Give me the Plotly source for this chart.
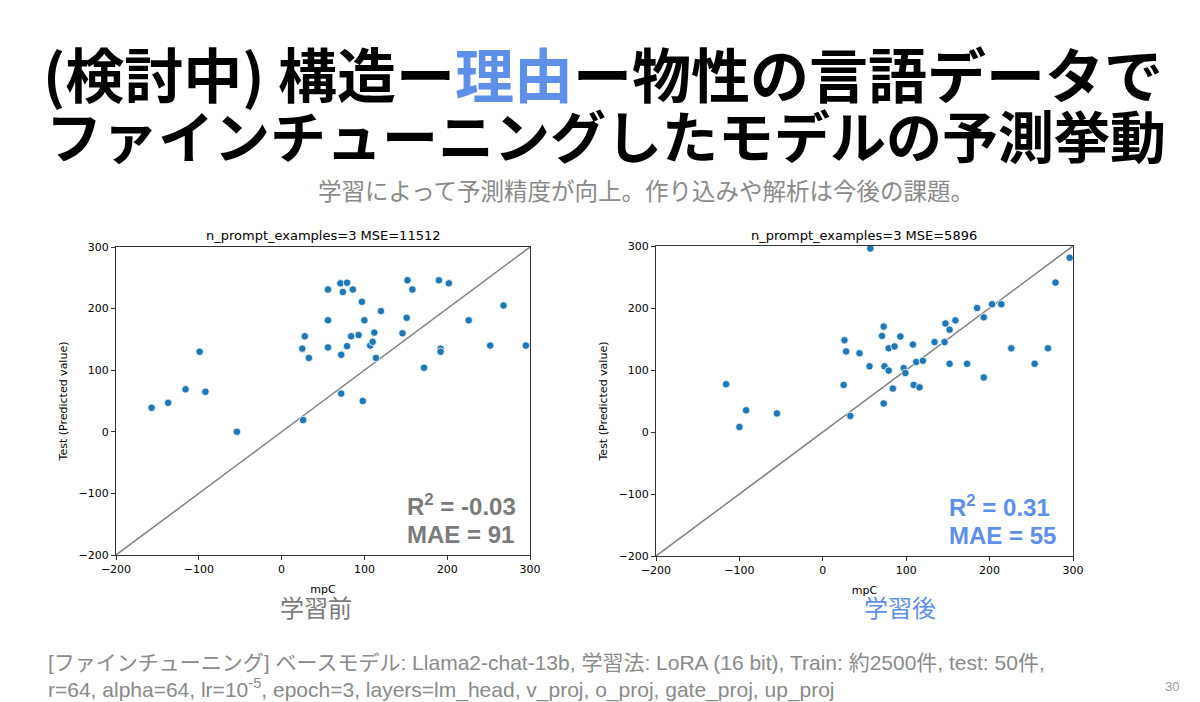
import plotly.graph_objects as go

# ---- data ----
before_x = [-157, -137, -116, -99, -92, -54, 26, 25, 28, 33, 56, 56, 56, 71, 79, 74, 86, 72, 72, 79,
            84, 93, 97, 100, 98, 107, 110, 112, 114, 120, 146, 151, 152, 158, 172, 190, 192, 192, 202,
            226, 252, 268, 295]
before_y = [39, 47, 69, 130, 65, 0, 19, 135, 155, 120, 231, 181, 137, 241, 242, 227, 231, 125, 62, 139,
            155, 157, 211, 181, 50, 140, 146, 161, 120, 196, 160, 185, 246, 231, 104, 246, 135, 130, 241,
            181, 140, 205, 140]

after_x = [57, 296, 279, 185, 203, 214, 193, 147, 159, 152, 73, 71, 93, 26, 28, 44, 79, 86, 108, 134,
           146, 226, 270, 56, 74, 79, 97, 99, 112, 120, 152, 173, 254, 193, 25, 84, 109, 116, 73, 33,
           -116, -92, -100, -55]
after_y = [296, 281, 241, 200, 206, 206, 185, 175, 180, 165, 170, 155, 154, 148, 130, 127, 135, 138, 141,
           145, 145, 135, 135, 106, 106, 99, 103, 95, 113, 115, 110, 110, 110, 88, 76, 70, 76, 72, 46,
           26, 77, 35, 8, 30]

diag = [-200, 300]
x_ticks = [-200, -100, 0, 100, 200, 300]
y_ticks = [-200, -100, 0, 100, 200, 300]

left_title = "n_prompt_examples=3 MSE=11512"
right_title = "n_prompt_examples=3 MSE=5896"
left_stats = ["R<sup>2</sup> = -0.03", "MAE = 91"]
right_stats = ["R<sup>2</sup> = 0.31", "MAE = 55"]

W, H = 1200, 702
OFF = 8  # page body margin
BLUE = "#5e8fe9"
GRAY = "#7b7b7b"
CJK = "Noto Sans CJK JP"
MPL = "DejaVu Sans"


def px(x):
    return (x - OFF) / W


def py(y):
    return 1 - (y - OFF) / H


fig = go.Figure()

# left panel
fig.add_trace(go.Scatter(x=diag, y=diag, mode="lines", line=dict(color="#808080", width=1.5),
                         xaxis="x", yaxis="y", hoverinfo="skip"))
fig.add_trace(go.Scatter(x=before_x, y=before_y, mode="markers",
                         marker=dict(color="#1f77b4", size=7.5, line=dict(color="white", width=0.8)),
                         xaxis="x", yaxis="y"))
# right panel
fig.add_trace(go.Scatter(x=diag, y=diag, mode="lines", line=dict(color="#808080", width=1.5),
                         xaxis="x2", yaxis="y2", hoverinfo="skip"))
fig.add_trace(go.Scatter(x=after_x, y=after_y, mode="markers",
                         marker=dict(color="#1f77b4", size=7.5, line=dict(color="white", width=0.8)),
                         xaxis="x2", yaxis="y2"))

axis_common = dict(range=[-200, 300], showline=True, mirror=True, linecolor="#333333", linewidth=1.2,
                   ticks="outside", ticklen=4, tickcolor="#333333", showgrid=False, zeroline=False,
                   automargin=False,
                   tickfont=dict(family=MPL, size=11, color="black"), tickvals=x_ticks,
                   ticktext=[str(v).replace("-", "\u2212") for v in x_ticks])

fig.update_layout(
    width=W, height=H, margin=dict(l=0, r=0, t=0, b=0),
    paper_bgcolor="white", plot_bgcolor="white", showlegend=False,
    xaxis=dict(axis_common, domain=[px(116), px(530)], anchor="y",
               title=dict(text="mpC", font=dict(family=MPL, size=11, color="black"), standoff=10)),
    yaxis=dict(axis_common, domain=[py(555), py(247)], anchor="x",
               title=dict(text="Test (Predicted value)", font=dict(family=MPL, size=11, color="black"),
                          standoff=8)),
    xaxis2=dict(axis_common, domain=[px(656), px(1073)], anchor="y2",
                title=dict(text="mpC", font=dict(family=MPL, size=11, color="black"), standoff=10)),
    yaxis2=dict(axis_common, domain=[py(556), py(246)], anchor="x2",
                title=dict(text="Test (Predicted value)", font=dict(family=MPL, size=11, color="black"),
                           standoff=8)),
)

ann = []


def add_text(text, x, y, size, color, family=CJK, xanchor="center", weight=None):
    f = dict(family=family, size=size, color=color)
    if weight:
        f["weight"] = weight
    ann.append(dict(text=text, x=px(x), y=py(y), xref="paper", yref="paper", showarrow=False,
                    xanchor=xanchor, yanchor="middle", font=f))


# header
add_text("(検討中) 構造ー<span style='color:%s'>理由</span>ー物性の言語データで" % BLUE, 603, 72, 59, "black",
         weight=700)
add_text("ファインチューニングしたモデルの予測挙動", 606, 133, 56, "black", weight=700)
add_text("学習によって予測精度が向上。作り込みや解析は今後の課題。", 646, 190, 23.5, "#8a8a8a")

# panel titles
add_text(left_title, 323, 236, 13, "black", family=MPL)
add_text(right_title, 864, 236, 13, "black", family=MPL)

# stats
add_text(left_stats[0], 405, 505, 24, GRAY, family="Liberation Sans", xanchor="left", weight=700)
add_text(left_stats[1], 405, 534, 24, GRAY, family="Liberation Sans", xanchor="left", weight=700)
add_text(right_stats[0], 947, 506, 24, BLUE, family="Liberation Sans", xanchor="left", weight=700)
add_text(right_stats[1], 947, 535, 24, BLUE, family="Liberation Sans", xanchor="left", weight=700)

# panel labels
add_text("学習前", 316, 606, 24, GRAY)
add_text("学習後", 900, 606, 24, BLUE)

# footer
FOOT = "Liberation Sans, " + CJK
add_text("[ファインチューニング] ベースモデル: Llama2-chat-13b, 学習法: LoRA (16 bit), Train: 約2500件, test: 50件,",
         46, 662, 21, "#8a8a8a", family=FOOT, xanchor="left")
add_text("r=64, alpha=64, lr=10<sup>-5</sup>, epoch=3, layers=lm_head, v_proj, o_proj, gate_proj, up_proj",
         46, 688, 21, "#8a8a8a", family=FOOT, xanchor="left")
add_text("30", 1172, 686, 13, "#999999", family="Liberation Sans")

fig.update_layout(annotations=ann)

fig.write_html("out.html")
